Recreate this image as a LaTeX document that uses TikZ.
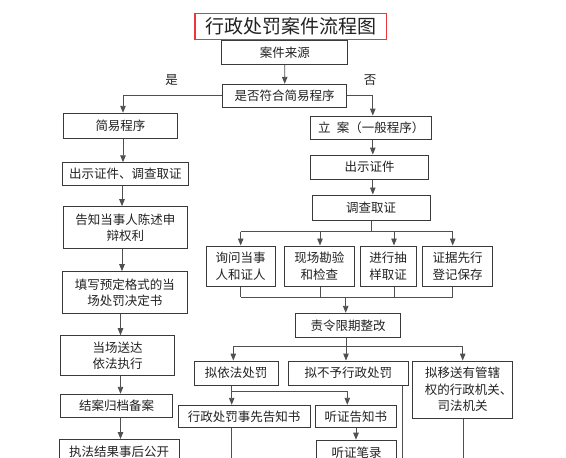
\documentclass[tikz,border=0pt]{standalone}
\usepackage{fontspec}
\setmainfont{Noto Sans CJK SC}
\usetikzlibrary{arrows.meta}
\definecolor{boxc}{HTML}{3A3A3A}
\definecolor{linec}{HTML}{505050}
\definecolor{txt}{HTML}{222222}
\definecolor{titlered}{HTML}{E8383D}
\begin{document}
\begin{tikzpicture}[x=1pt,y=-1pt,
 box/.style={draw=boxc, line width=1pt, fill=white, inner sep=0pt, text=txt, align=center,
   font=\fontsize{12.5}{16.5}\selectfont},
 conn/.style={draw=linec, line width=0.9pt},
 arr/.style={conn, -{Triangle[length=7pt,width=5.5pt]}},
 lbl/.style={text=txt, inner sep=0pt, font=\fontsize{12.5}{15}\selectfont}]
\useasboundingbox (0,0) rectangle (566,458);
\clip (0,0) rectangle (566,458);
\fill[white] (0,0) rectangle (566,458);

% title
\node[draw=titlered, line width=1.2pt, minimum width=191.7pt, minimum height=26pt, inner sep=0pt,
  text=txt, font=\fontsize{19}{19}\selectfont] (title) at (290.8,26.3) {行政处罚案件流程图\hspace{8pt}};

% column coordinates
\coordinate (xa) at (123,0);
\coordinate (xb) at (122,0);
\coordinate (xc) at (120.5,0);
\coordinate (xr) at (372.8,0);
\coordinate (xe1) at (240.7,0);
\coordinate (xe2) at (320,0);
\coordinate (xe3) at (394,0);
\coordinate (xe4) at (452.7,0);
\coordinate (xk) at (346,0);
\coordinate (xm1) at (233.3,0);
\coordinate (xm3) at (462.7,0);
\coordinate (xo1) at (231.7,0);
\coordinate (xo2) at (347.3,0);
\coordinate (xq) at (356,0);
\coordinate (xd1) at (231,0);
\coordinate (xd2) at (402.7,0);
\coordinate (xd3) at (463,0);
\coordinate (bot) at (0,470);

% nodes
\node[box, minimum width=126.3pt, minimum height=23.6pt] (A) at (284.8,52.5) {案件来源};
\node[box, minimum width=124pt, minimum height=23pt] (B) at (284.7,95.8) {是否符合简易程序};
\node[lbl] (yes) at (171.7,80) {是};
\node[lbl] (no) at (370,80) {否};
\node[box, minimum width=114.4pt, minimum height=25pt] (C) at (120.5,125.8) {简易程序};
\node[box, minimum width=121pt, minimum height=23.3pt] (D) at (371.2,127.7) {立\hspace{0.5em}案（一般程序）};
\node[box, minimum width=126pt, minimum height=22.3pt] (E) at (125.3,173.9) {出示证件、调查取证};
\node[box, minimum width=117.6pt, minimum height=24.3pt] (F) at (369.5,167.2) {出示证件};
\node[box, minimum width=117.7pt, minimum height=25pt] (G) at (371.2,207.5) {调查取证};
\node[box, minimum width=124pt, minimum height=41.6pt] (H) at (125.3,227.5) {告知当事人陈述申\\辩权利};
\node[box, minimum width=69.3pt, minimum height=40pt] (I1) at (240.7,266) {询问当事\\人和证人};
\node[box, minimum width=70pt, minimum height=40pt] (I2) at (319.3,266) {现场勘验\\和检查};
\node[box, minimum width=55.7pt, minimum height=40pt] (I3) at (388.2,266) {进行抽\\样取证};
\node[box, minimum width=69.6pt, minimum height=40pt] (I4) at (457.5,266) {证据先行\\登记保存};
\node[box, minimum width=125pt, minimum height=41.6pt] (J) at (124.8,292.5) {填写预定格式的当\\场处罚决定书};
\node[box, minimum width=105pt, minimum height=24.4pt] (K) at (348.2,325.5) {责令限期整改};
\node[box, minimum width=113.6pt, minimum height=40pt] (L) at (117.5,355.7) {当场送达\\依法执行};
\node[box, minimum width=84.3pt, minimum height=24.3pt] (M1) at (236.2,373.2) {拟依法处罚};
\node[box, minimum width=120pt, minimum height=24.3pt] (M2) at (348.3,373.2) {拟不予行政处罚};
\node[box, minimum width=93.3pt, minimum height=57.3pt] (M3) at (462.7,389.7) {拟移送有管辖\\\hspace*{12pt}权的行政机关、\\司法机关};
\node[box, minimum width=112pt, minimum height=23pt] (N) at (116.7,405.8) {结案归档备案};
\node[box, minimum width=131.7pt, minimum height=22pt] (O1) at (244.2,416.3) {行政处罚事先告知书};
\node[box, minimum width=80.3pt, minimum height=22pt] (O2) at (355.9,416.3) {听证告知书};
\node[box, minimum width=119.7pt, minimum height=25pt] (P) at (119.2,452) {执法结果事后公开};
\node[box, minimum width=80pt, minimum height=25pt] (Q) at (356.7,452.7) {听证笔录};

% junctions
\coordinate (gj) at (371.7,231.7);
\coordinate (ej) at (345.7,297.3);
\coordinate (kj) at (346,346.7);
\coordinate (mj) at (231.7,391);

% connectors
\draw[arr] (A.south) -- (B.north);
\draw[arr] (B.west) -| (C.north -| xa);
\draw[arr] (B.east) -| (D.north -| xr);
\draw[arr] (C.south -| xa) -- (E.north -| xa);
\draw[arr] (E.south -| xb) -- (H.north -| xb);
\draw[arr] (H.south -| xb) -- (J.north -| xb);
\draw[arr] (J.south -| xc) -- (L.north -| xc);
\draw[arr] (L.south -| xc) -- (N.north -| xc);
\draw[arr] (N.south -| xc) -- (P.north -| xc);

\draw[arr] (D.south -| xr) -- (F.north -| xr);
\draw[arr] (F.south -| xr) -- (G.north -| xr);
\draw[conn] (G.south -| gj) -- (gj);
\draw[conn] (gj -| xe1) -- (gj -| xe4);
\draw[arr] (gj -| xe1) -- (I1.north -| xe1);
\draw[arr] (gj -| xe2) -- (I2.north -| xe2);
\draw[arr] (gj -| xe3) -- (I3.north -| xe3);
\draw[arr] (gj -| xe4) -- (I4.north -| xe4);
\draw[conn] (I1.south -| xe1) -- (ej -| xe1);
\draw[conn] (I2.south -| xe2) -- (ej -| xe2);
\draw[conn] (I3.south -| xe3) -- (ej -| xe3);
\draw[conn] (I4.south -| xe4) -- (ej -| xe4);
\draw[conn] (ej -| xe1) -- (ej -| xe4);
\draw[arr] (ej) -- (K.north -| ej);

\draw[conn] (K.south -| kj) -- (kj);
\draw[conn] (kj -| xm1) -- (kj -| xm3);
\draw[arr] (kj -| xm1) -- (M1.north -| xm1);
\draw[arr] (kj) -- (M2.north -| kj);
\draw[arr] (kj -| xm3) -- (M3.north -| xm3);

\draw[conn] (M1.south -| mj) -- (mj);
\draw[conn] (mj) -- (mj -| xo2);
\draw[arr] (mj) -- (O1.north -| mj);
\draw[arr] (mj -| xo2) -- (O2.north -| xo2);
\draw[arr] (O2.south -| xq) -- (Q.north -| xq);

\draw[conn] (O1.south -| xd1) -- (bot -| xd1);
\draw[conn] (M2.south -| xd2) -- (bot -| xd2);
\draw[conn] (M3.south -| xd3) -- (bot -| xd3);
\end{tikzpicture}
\end{document}
